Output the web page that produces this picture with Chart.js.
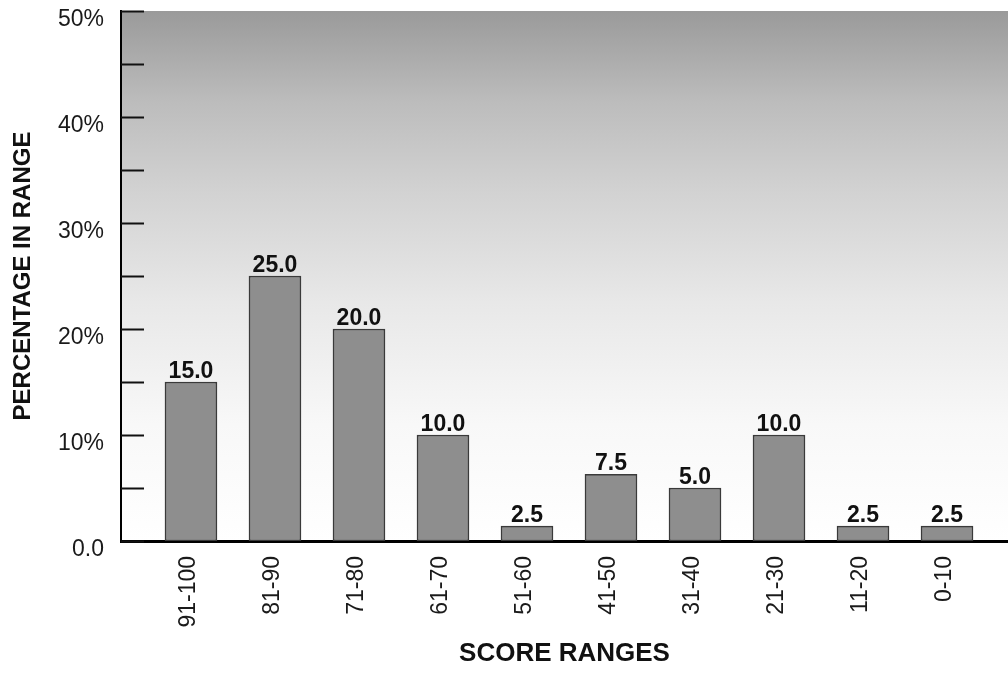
<!DOCTYPE html>
<html>
<head>
<meta charset="utf-8">
<title>Score ranges</title>
<script src="https://cdn.jsdelivr.net/npm/chart.js@4.4.1/dist/chart.umd.min.js"></script>
<style>
  html, body { margin: 0; padding: 0; background: #ffffff; }
  #chart { display: block; }
</style>
</head>
<body>
<canvas id="chart" width="1008" height="673"></canvas>
<script>
// categories along the x axis
const scoreRanges = ['91-100', '81-90', '71-80', '61-70', '51-60', '41-50', '31-40', '21-30', '11-20', '0-10'];
// bar heights as drawn in the picture (percent)
const barHeights = [15, 25, 20, 10, 1.4, 6.3, 5, 10, 1.4, 1.4];
// value labels printed above the bars
const valueLabels = ['15.0', '25.0', '20.0', '10.0', '2.5', '7.5', '5.0', '10.0', '2.5', '2.5'];
// y axis
const yTickValues = [0, 5, 10, 15, 20, 25, 30, 35, 40, 45, 50];
const yTickLabels = ['0.0', '', '10%', '', '20%', '', '30%', '', '40%', '', '50%'];

const FONT = '"Liberation Sans", Arial, Helvetica, sans-serif';

// plot background: grey at the top fading to white
const gradientBackground = {
    id: 'gradientBackground',
    beforeDraw(chart) {
        const { ctx, chartArea } = chart;
        const g = ctx.createLinearGradient(0, chartArea.top, 0, chartArea.bottom);
        g.addColorStop(0, '#9a9a9a');
        g.addColorStop(0.17, '#bcbcbc');
        g.addColorStop(0.34, '#d2d2d2');
        g.addColorStop(0.55, '#e8e8e8');
        g.addColorStop(0.78, '#f8f8f8');
        g.addColorStop(1, '#ffffff');
        ctx.save();
        ctx.fillStyle = g;
        ctx.fillRect(chartArea.left, chartArea.top, chartArea.right - chartArea.left, chartArea.bottom - chartArea.top);
        ctx.restore();
    }
};

// tick marks pointing into the plot from the y axis
const innerTicks = {
    id: 'innerTicks',
    afterDatasetsDraw(chart) {
        const { ctx, chartArea } = chart;
        const y = chart.scales.y;
        ctx.save();
        ctx.strokeStyle = '#111111';
        ctx.lineWidth = 2;
        yTickValues.forEach(v => {
            const py = Math.round(y.getPixelForValue(v)) + 0.5;
            ctx.beginPath();
            ctx.moveTo(chartArea.left, py);
            ctx.lineTo(chartArea.left + 23, py);
            ctx.stroke();
        });
        ctx.restore();
    }
};

// numbers above each bar
const barLabels = {
    id: 'barLabels',
    afterDatasetsDraw(chart) {
        const { ctx } = chart;
        const meta = chart.getDatasetMeta(0);
        ctx.save();
        ctx.font = 'bold 23px ' + FONT;
        ctx.fillStyle = '#111111';
        ctx.textAlign = 'center';
        ctx.textBaseline = 'alphabetic';
        meta.data.forEach((bar, i) => {
            ctx.fillText(valueLabels[i], bar.x, bar.y - 4);
        });
        ctx.restore();
    }
};

const ctx = document.getElementById('chart').getContext('2d');
const chart = new Chart(ctx, {
    type: 'bar',
    data: {
        datasets: [{
            data: barHeights.map((v, i) => ({ x: i, y: v })),
            backgroundColor: '#8e8e8e',
            borderColor: '#3a3a3a',
            borderWidth: 1.5,
            borderSkipped: false,
            barThickness: 52
        }]
    },
    options: {
        responsive: false,
        animation: false,
        layout: { padding: { top: 11, right: 0, left: 0, bottom: 0 } },
        plugins: {
            legend: { display: false },
            tooltip: { enabled: false }
        },
        scales: {
            x: {
                type: 'linear',
                offset: false,
                min: -0.833,
                max: 9.726,
                afterBuildTicks(scale) {
                    scale.ticks = scoreRanges.map((c, i) => ({ value: i }));
                },
                afterFit(scale) {
                    scale.height = 132;
                    scale.paddingLeft = 0;
                    scale.paddingRight = 0;
                },
                grid: { display: false, drawTicks: false, offset: false },
                border: { display: true, color: '#000000', width: 3 },
                ticks: {
                    autoSkip: false,
                    minRotation: 90,
                    maxRotation: 90,
                    padding: 15,
                    labelOffset: -2,
                    color: '#1a1a1a',
                    font: { family: FONT, size: 23 },
                    callback: (v) => scoreRanges[v]
                },
                title: {
                    display: true,
                    text: 'SCORE RANGES',
                    color: '#111111',
                    font: { family: FONT, size: 26, weight: 'bold' },
                    padding: { top: 0, bottom: 4 }
                }
            },
            y: {
                min: 0,
                max: 50,
                afterBuildTicks(scale) {
                    scale.ticks = yTickValues.map(v => ({ value: v }));
                },
                afterFit(scale) {
                    scale.width = 121;
                    scale.paddingTop = 0;
                    scale.paddingBottom = 0;
                },
                grid: { display: false, drawTicks: false },
                border: { display: true, color: '#000000', width: 2 },
                ticks: {
                    padding: 17,
                    labelOffset: 9,
                    color: '#1a1a1a',
                    font: { family: FONT, size: 23 },
                    callback: (v) => yTickLabels[yTickValues.indexOf(v)]
                },
                title: {
                    display: true,
                    text: 'PERCENTAGE IN RANGE',
                    color: '#111111',
                    font: { family: FONT, size: 24, weight: 'bold' },
                    padding: { top: 9, bottom: 0 }
                }
            }
        }
    },
    plugins: [gradientBackground, innerTicks, barLabels]
});
</script>
</body>
</html>
